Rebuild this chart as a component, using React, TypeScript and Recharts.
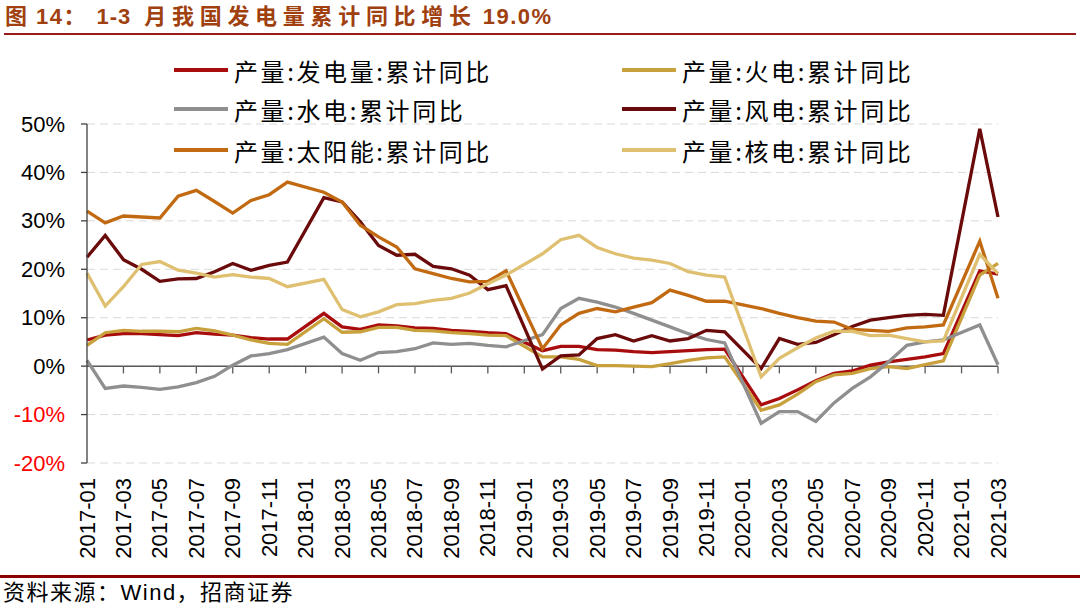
import React from 'react';
import { LineChart, Line, XAxis, YAxis, CartesianGrid, ReferenceLine } from 'recharts';

const MONTHS = [
  '2017-01','2017-02','2017-03','2017-04','2017-05','2017-06','2017-07','2017-08','2017-09','2017-10','2017-11','2017-12',
  '2018-01','2018-02','2018-03','2018-04','2018-05','2018-06','2018-07','2018-08','2018-09','2018-10','2018-11','2018-12',
  '2019-01','2019-02','2019-03','2019-04','2019-05','2019-06','2019-07','2019-08','2019-09','2019-10','2019-11','2019-12',
  '2020-01','2020-02','2020-03','2020-04','2020-05','2020-06','2020-07','2020-08','2020-09','2020-10','2020-11','2020-12',
  '2021-01','2021-02','2021-03',
];

const TICK_MONTHS = [
  '2017-03','2017-05','2017-07','2017-09','2017-11','2018-01','2018-03','2018-05','2018-07','2018-09','2018-11',
  '2019-01','2019-03','2019-05','2019-07','2019-09','2019-11','2020-01','2020-03','2020-05','2020-07','2020-09','2020-11',
  '2021-01','2021-03',
];

const Y_TICKS = [-20, -10, 0, 10, 20, 30, 40, 50];

const TOTAL = [5.4,6.4,6.7,6.7,6.5,6.3,6.9,6.6,6.4,5.9,5.6,5.6,
  null,10.9,8.1,7.6,8.5,8.3,7.9,7.8,7.4,7.2,6.9,6.7,
  null,3.2,4.1,4.1,3.4,3.3,3.0,2.8,3.0,3.2,3.4,3.5,
  null,-8.0,-6.7,-4.9,-3.0,-1.5,-1.0,0.2,0.9,1.4,1.9,2.6,
  null,19.7,19.0];

const THERMAL = [4.3,6.9,7.4,7.2,7.2,7.1,7.8,7.3,6.4,5.4,4.7,4.5,
  null,9.8,7.0,7.1,8.0,8.0,7.4,7.3,6.9,6.7,6.4,6.3,
  null,1.9,1.9,1.4,0.1,0.1,0.0,-0.1,0.5,1.2,1.7,1.9,
  null,-9.1,-8.0,-5.8,-3.2,-1.8,-1.5,-0.5,-0.1,-0.5,0.3,1.1,
  null,18.8,21.2];

const HYDRO = [1.2,-4.6,-4.1,-4.4,-4.8,-4.3,-3.4,-2.1,0.2,2.1,2.6,3.4,
  null,6.0,2.6,1.2,2.8,3.0,3.6,4.8,4.5,4.7,4.3,4.0,
  null,6.5,11.9,14.0,13.2,12.2,10.9,9.5,8.1,6.7,5.5,4.8,
  null,-11.8,-9.4,-9.4,-11.4,-7.6,-4.6,-2.2,0.9,4.3,5.0,5.4,
  null,8.5,0.3];

const WIND = [22.5,27.0,22.0,20.0,17.5,18.0,18.1,19.5,21.2,19.8,20.8,21.5,
  null,34.8,33.9,29.8,24.9,22.9,23.1,20.6,20.1,18.8,15.8,16.6,
  null,-0.6,2.1,2.3,5.7,6.5,5.2,6.3,5.2,5.7,7.4,7.1,
  null,-0.5,5.7,4.5,4.9,6.5,8.2,9.5,10.0,10.5,10.7,10.5,
  null,49.0,30.8];

const SOLAR = [32.0,29.6,31.0,30.8,30.6,35.1,36.3,34.0,31.6,34.2,35.4,38.0,
  null,35.9,33.9,29.1,26.7,24.6,20.1,19.1,18.1,17.4,17.5,19.7,
  null,3.6,8.5,10.9,11.9,11.2,12.2,13.1,15.7,14.6,13.4,13.4,
  null,11.9,10.9,10.0,9.3,9.1,7.6,7.4,7.2,7.9,8.1,8.5,
  null,25.8,14.0];

const NUCLEAR = [19.2,12.4,16.4,21.0,21.6,19.8,19.2,18.4,18.9,18.4,18.1,16.4,
  null,17.9,11.7,10.2,11.2,12.7,12.9,13.6,14.0,15.1,17.0,18.8,
  null,23.2,26.1,27.0,24.5,23.2,22.3,21.9,21.2,19.5,18.8,18.4,
  null,-2.2,1.6,3.8,5.8,7.2,7.2,6.3,6.4,5.7,5.0,5.2,
  null,23.1,19.1];

const SERIES = [
  { key: 'total', name: '产量:发电量:累计同比', color: '#A80C0C', values: TOTAL },
  { key: 'thermal', name: '产量:火电:累计同比', color: '#C8A03C', values: THERMAL },
  { key: 'hydro', name: '产量:水电:累计同比', color: '#8F8F8F', values: HYDRO },
  { key: 'wind', name: '产量:风电:累计同比', color: '#6B0A0A', values: WIND },
  { key: 'solar', name: '产量:太阳能:累计同比', color: '#C26A12', values: SOLAR },
  { key: 'nuclear', name: '产量:核电:累计同比', color: '#DFC070', values: NUCLEAR },
];

const data = MONTHS.map((m, i) => {
  const row: Record<string, any> = { month: m };
  SERIES.forEach((s) => { row[s.key] = s.values[i]; });
  return row;
});

const LATIN = "'Liberation Sans', Arial, 'Noto Sans CJK SC', sans-serif";
const CJK = "'Noto Sans CJK SC', sans-serif";

const YTick = (props: any) => {
  const { x, y, payload } = props;
  const v = payload.value;
  return (
    <text x={x} y={y} textAnchor="end" dominantBaseline="central" fontSize={22}
      fontFamily={LATIN} fill={v < 0 ? '#FF0000' : '#000000'}>{`${v}%`}</text>
  );
};

const XTick = (props: any) => {
  const { x, y, payload } = props;
  return (
    <text x={x} y={y} transform={`rotate(-90 ${x} ${y})`} textAnchor="end" dominantBaseline="central"
      fontSize={22} fontFamily={LATIN} fill="#000000">{payload.value}</text>
  );
};

const LEGEND_POS = [
  { left: 174, top: 70 }, { left: 622, top: 70 },
  { left: 174, top: 109 }, { left: 622, top: 109 },
  { left: 174, top: 150 }, { left: 622, top: 150 },
];

export default function App() {
  return (
    <div style={{ position: 'absolute', left: 0, top: 0, width: 1080, height: 608, background: '#fff', overflow: 'hidden' }}>
      <div style={{ position: 'absolute', left: 5, top: 3, fontSize: 22, fontWeight: 'bold', color: '#A0400F',
        fontFamily: LATIN, whiteSpace: 'nowrap', lineHeight: '28px' }}>
        <span style={{ letterSpacing: 9 }}>图</span>
        <span style={{ letterSpacing: 1.5 }}>14</span>
        <span>：</span>
        <span style={{ marginLeft: 11, letterSpacing: 1 }}>1-3</span>
        <span style={{ marginLeft: 13, letterSpacing: 5.7 }}>月我国发电量累计同比增长</span>
        <span style={{ marginLeft: 6, letterSpacing: 1.5 }}>19.0%</span>
      </div>
      <div style={{ position: 'absolute', left: 4, top: 33, width: 1072, height: 2, background: '#9B1B1B' }} />
      <div style={{ position: 'absolute', left: 0, top: 0 }}>
        <LineChart width={1080} height={608} data={data} margin={{ top: 124, right: 82, bottom: 25, left: 0 }}>
          <CartesianGrid vertical={false} stroke="#D9D9D9" strokeDasharray="8 5" />
          <XAxis dataKey="month" interval={1} tick={<XTick />} tickLine={false} axisLine={false}
            tickSize={0} tickMargin={15} height={120} />
          <YAxis type="number" domain={[-20, 50]} ticks={Y_TICKS} interval={0} width={87}
            tick={<YTick />} tickSize={6} tickMargin={16}
            axisLine={{ stroke: '#404040', strokeWidth: 1.3 }} tickLine={{ stroke: '#404040', strokeWidth: 1.3 }} />
          <ReferenceLine y={0} stroke="#595959" strokeWidth={1.5} />
          {TICK_MONTHS.map((m) => (
            <ReferenceLine key={m} segment={[{ x: m, y: 0 }, { x: m, y: -1.5 }]} stroke="#595959" strokeWidth={1.3} />
          ))}
          {SERIES.map((s) => (
            <Line key={s.key} type="linear" dataKey={s.key} name={s.name} stroke={s.color} strokeWidth={3.3}
              dot={false} connectNulls isAnimationActive={false} />
          ))}
        </LineChart>
      </div>
      {SERIES.map((s, i) => (
        <div key={s.key} style={{ position: 'absolute', left: LEGEND_POS[i].left, top: LEGEND_POS[i].top - 16,
          height: 32, display: 'flex', alignItems: 'center', whiteSpace: 'nowrap' }}>
          <div style={{ width: 54, height: 3.5, background: s.color }} />
          <span style={{ marginLeft: 6, fontSize: 24, fontFamily: CJK, color: '#000', letterSpacing: 2.6 }}>{s.name}</span>
        </div>
      ))}
      <div style={{ position: 'absolute', left: 0, top: 575, width: 1080, height: 3, background: '#8B0000' }} />
      <div style={{ position: 'absolute', left: 3, top: 579, fontSize: 22, fontFamily: LATIN, color: '#000',
        letterSpacing: 1.5, whiteSpace: 'nowrap', lineHeight: '28px' }}>
        资料来源：Wind，招商证券
      </div>
    </div>
  );
}
